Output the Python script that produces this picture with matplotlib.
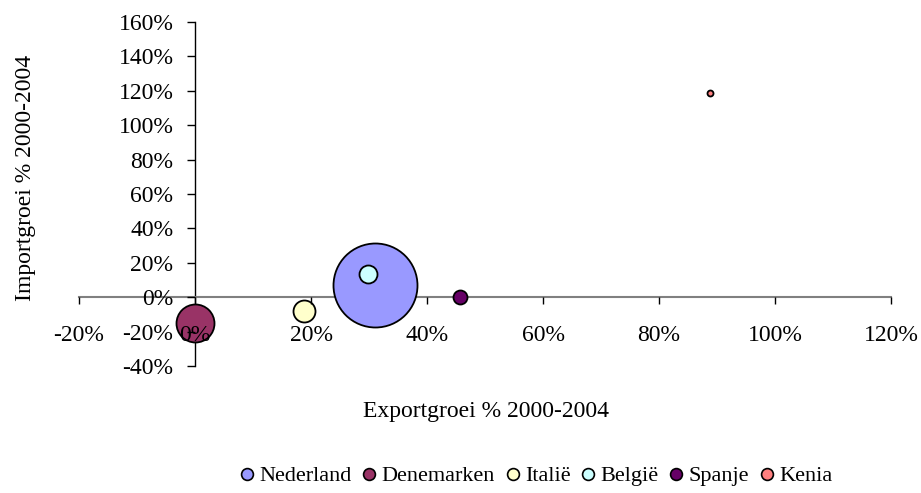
import matplotlib
matplotlib.use("Agg")
import matplotlib.pyplot as plt
from matplotlib.ticker import FuncFormatter, MultipleLocator
from matplotlib.lines import Line2D

plt.rcParams['font.family'] = ['Liberation Serif', 'DejaVu Serif']

countries = ["Nederland", "Denemarken", "Italië", "België", "Spanje", "Kenia"]
export_growth = [0.31, 0.00, 0.188, 0.298, 0.457, 0.888]
import_growth = [0.07, -0.15, -0.08, 0.134, 0.00, 1.186]
bubble_size = [1764, 361, 121, 81, 49, 9]
colors = ["#9999FF", "#993366", "#FFFFCC", "#CCFFFF", "#660066", "#FF8080"]

W, H = 921, 493
FS = 17
fig = plt.figure(figsize=(W / 100, H / 100), dpi=100)
ax = fig.add_axes([79 / W, (H - 366) / H, (891 - 79) / W, (366 - 22) / H])
ax.set_xlim(-0.2, 1.2)
ax.set_ylim(-0.4, 1.6)

# size -> marker area in points^2 (radius px ~ sqrt(size))
k = (1.44) ** 2
for x, y, s, c in zip(export_growth, import_growth, bubble_size, colors):
    ax.scatter([x], [y], s=s * k, c=c, edgecolors="black", linewidths=1.3, zorder=3)

for sp in ["top", "right"]:
    ax.spines[sp].set_visible(False)
ax.spines["left"].set_position(("data", 0))
ax.spines["bottom"].set_position(("data", 0))
ax.spines["left"].set_color("black")
ax.spines["bottom"].set_color("#808080")
ax.spines["left"].set_linewidth(1.0)
ax.spines["bottom"].set_linewidth(1.5)

ax.xaxis.set_major_locator(MultipleLocator(0.2))
ax.yaxis.set_major_locator(MultipleLocator(0.2))
fmt = FuncFormatter(lambda v, p: f"{round(v * 100):d}%")
ax.xaxis.set_major_formatter(fmt)
ax.yaxis.set_major_formatter(fmt)
ax.tick_params(axis="x", direction="out", length=5, width=1, color="black",
               labelsize=FS, pad=15)
ax.tick_params(axis="y", direction="out", length=5.5, width=1, color="black",
               labelsize=FS, pad=10)
ax.xaxis.set_zorder(5)
ax.yaxis.set_zorder(5)

fig.text(486 / W, 1 - 412 / H, "Exportgroei % 2000-2004", ha="center", va="center", fontsize=FS)
fig.text(25 / W, 1 - 178 / H, "Importgroei % 2000-2004", ha="center", va="center",
         rotation=90, fontsize=FS)

handles = [Line2D([], [], marker="o", linestyle="none", markerfacecolor=c,
                  markeredgecolor="black", markersize=8.5, markeredgewidth=1.2)
           for c in colors]
fig.legend(handles, countries, loc="center", bbox_to_anchor=(537 / W, 1 - 476 / H),
           ncol=6, frameon=False, fontsize=16, handletextpad=0.3,
           columnspacing=0.55, handlelength=0.5, borderaxespad=0, borderpad=0)

fig.savefig("out.png", dpi=100)
